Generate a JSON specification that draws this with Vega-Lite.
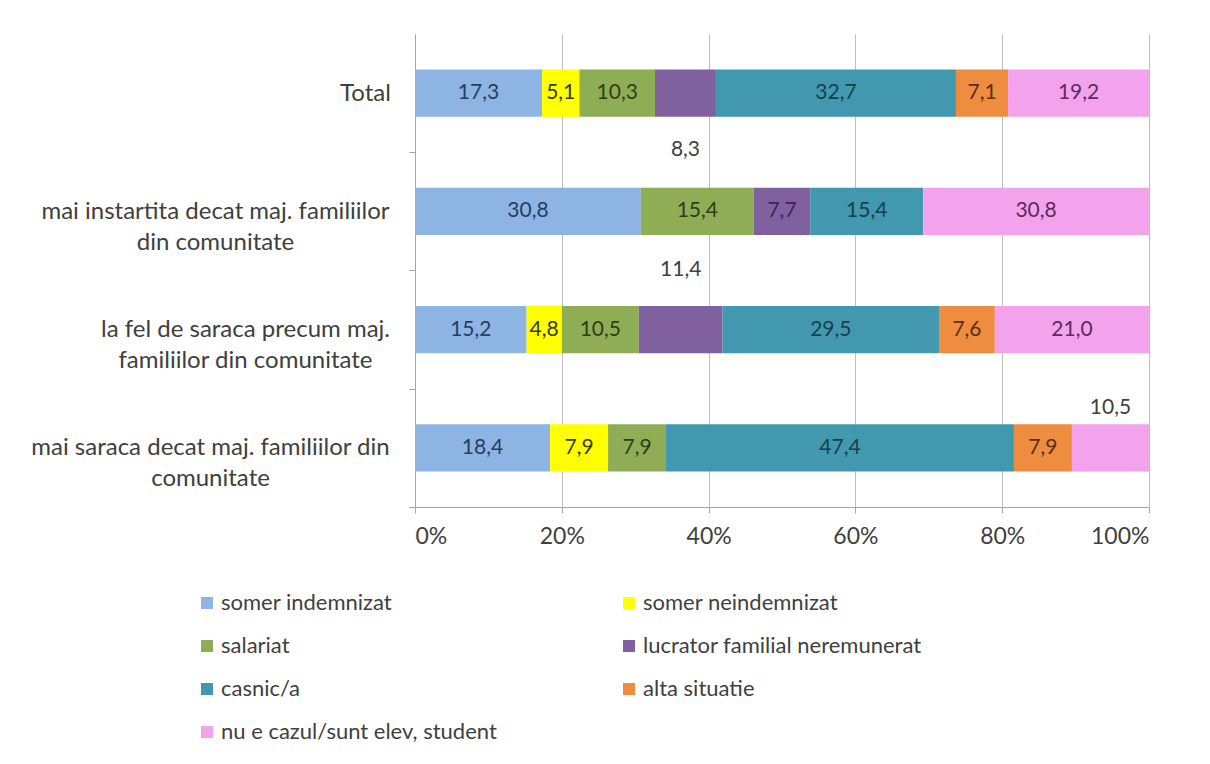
{
  "$schema": "https://vega.github.io/schema/vega-lite/v6.json",
  "width": 734,
  "height": 473,
  "autosize": {"type": "none"},
  "padding": {"left": 415, "top": 34, "right": 61, "bottom": 257},
  "background": "white",
  "config": {
    "locale": {"number": {"decimal": ",", "thousands": ".", "grouping": [3], "currency": ["", ""]}},
    "view": {"stroke": null},
    "font": "Lato",
    "text": {"font": "Lato", "fontSize": 21}
  },
  "data": {"values": [
    {"grup": "Total", "situatie": "somer indemnizat", "nr": 1, "pct": 17.3},
    {"grup": "Total", "situatie": "somer neindemnizat", "nr": 2, "pct": 5.1},
    {"grup": "Total", "situatie": "salariat", "nr": 3, "pct": 10.3},
    {"grup": "Total", "situatie": "lucrator familial neremunerat", "nr": 4, "pct": 8.3},
    {"grup": "Total", "situatie": "casnic/a", "nr": 5, "pct": 32.7},
    {"grup": "Total", "situatie": "alta situatie", "nr": 6, "pct": 7.1},
    {"grup": "Total", "situatie": "nu e cazul/sunt elev, student", "nr": 7, "pct": 19.2},
    {"grup": "mai instartita decat maj. familiilor|din comunitate", "situatie": "somer indemnizat", "nr": 1, "pct": 30.8},
    {"grup": "mai instartita decat maj. familiilor|din comunitate", "situatie": "salariat", "nr": 3, "pct": 15.4},
    {"grup": "mai instartita decat maj. familiilor|din comunitate", "situatie": "lucrator familial neremunerat", "nr": 4, "pct": 7.7},
    {"grup": "mai instartita decat maj. familiilor|din comunitate", "situatie": "casnic/a", "nr": 5, "pct": 15.4},
    {"grup": "mai instartita decat maj. familiilor|din comunitate", "situatie": "nu e cazul/sunt elev, student", "nr": 7, "pct": 30.8},
    {"grup": "la fel de saraca precum maj.|familiilor din comunitate", "situatie": "somer indemnizat", "nr": 1, "pct": 15.2},
    {"grup": "la fel de saraca precum maj.|familiilor din comunitate", "situatie": "somer neindemnizat", "nr": 2, "pct": 4.8},
    {"grup": "la fel de saraca precum maj.|familiilor din comunitate", "situatie": "salariat", "nr": 3, "pct": 10.5},
    {"grup": "la fel de saraca precum maj.|familiilor din comunitate", "situatie": "lucrator familial neremunerat", "nr": 4, "pct": 11.4},
    {"grup": "la fel de saraca precum maj.|familiilor din comunitate", "situatie": "casnic/a", "nr": 5, "pct": 29.5},
    {"grup": "la fel de saraca precum maj.|familiilor din comunitate", "situatie": "alta situatie", "nr": 6, "pct": 7.6},
    {"grup": "la fel de saraca precum maj.|familiilor din comunitate", "situatie": "nu e cazul/sunt elev, student", "nr": 7, "pct": 21.0},
    {"grup": "mai saraca decat maj. familiilor din|comunitate", "situatie": "somer indemnizat", "nr": 1, "pct": 18.4},
    {"grup": "mai saraca decat maj. familiilor din|comunitate", "situatie": "somer neindemnizat", "nr": 2, "pct": 7.9},
    {"grup": "mai saraca decat maj. familiilor din|comunitate", "situatie": "salariat", "nr": 3, "pct": 7.9},
    {"grup": "mai saraca decat maj. familiilor din|comunitate", "situatie": "casnic/a", "nr": 5, "pct": 47.4},
    {"grup": "mai saraca decat maj. familiilor din|comunitate", "situatie": "alta situatie", "nr": 6, "pct": 7.9},
    {"grup": "mai saraca decat maj. familiilor din|comunitate", "situatie": "nu e cazul/sunt elev, student", "nr": 7, "pct": 10.5}
  ]},
  "encoding": {
    "y": {
      "field": "grup", "type": "nominal",
      "sort": ["Total", "mai instartita decat maj. familiilor|din comunitate", "la fel de saraca precum maj.|familiilor din comunitate", "mai saraca decat maj. familiilor din|comunitate"],
      "scale": {"paddingInner": 0.6, "paddingOuter": 0.3},
      "axis": {
        "title": null,
        "labelExpr": "split(datum.label, '|')",
        "labelFont": "Lato", "labelFontSize": 24, "labelColor": "#404040",
        "labelLineHeight": 31, "labelLimit": 500,
        "labelAlign": "center",
        "labelPadding": {
          "condition": [
            {"test": "datum.value == 'Total'", "value": 44},
            {"test": "datum.value == 'mai instartita decat maj. familiilor|din comunitate'", "value": 194},
            {"test": "datum.value == 'la fel de saraca precum maj.|familiilor din comunitate'", "value": 164}
          ],
          "value": 199
        },
        "tickOffset": 59, "labelOffset": -59,
        "domainColor": "#A6A6A6", "tickColor": "#A6A6A6", "tickSize": 6,
        "grid": false
      }
    },
    "order": {"field": "nr", "type": "quantitative"}
  },
  "layer": [
    {
      "mark": {"type": "bar"},
      "encoding": {
        "x": {
          "field": "pct", "type": "quantitative", "stack": "normalize",
          "axis": {
            "title": null, "format": ".0%", "values": [0, 0.2, 0.4, 0.6, 0.8, 1],
            "labelFont": "Lato", "labelFontSize": 23, "labelColor": "#404040", "labelPadding": 12,
            "grid": true, "gridColor": "#BFBFBF", "domainColor": "#A6A6A6", "tickColor": "#A6A6A6", "tickSize": 6
          }
        },
        "color": {
          "field": "situatie", "type": "nominal",
          "scale": {
            "domain": ["somer indemnizat", "somer neindemnizat", "salariat", "lucrator familial neremunerat", "casnic/a", "alta situatie", "nu e cazul/sunt elev, student"],
            "range": ["#8EB4E3", "#FFFF00", "#8FAD55", "#7F61A0", "#4198AF", "#EE8C3F", "#F3A3EC"]
          },
          "legend": {
            "title": null, "orient": "none", "legendX": -219, "legendY": 558,
            "direction": "horizontal",
            "columns": 2, "columnPadding": 121, "rowPadding": 21,
            "symbolType": "square", "symbolSize": 144, "symbolStrokeWidth": 0, "labelOffset": 3,
            "labelFont": "Lato", "labelFontSize": 22, "labelColor": "#404040", "labelLimit": 400
          }
        }
      }
    },
    {
      "mark": {"type": "text"},
      "encoding": {
        "x": {"field": "pct", "type": "quantitative", "stack": "normalize", "bandPosition": 0.5},
        "text": {
          "condition": {"test": "datum.pct == 8.3 && datum.nr == 4 || datum.pct == 11.4 && datum.nr == 4 || datum.nr == 7 && datum.pct == 10.5", "value": ""},
          "field": "pct", "type": "quantitative", "format": ".1f"
        },
        "color": {
          "field": "situatie", "type": "nominal",
          "scale": {
            "domain": ["somer indemnizat", "somer neindemnizat", "salariat", "lucrator familial neremunerat", "casnic/a", "alta situatie", "nu e cazul/sunt elev, student"],
            "range": ["#243F60", "#3A3A10", "#2F3D16", "#3B2454", "#173F4B", "#5A2E0E", "#5C2A5C"]
          },
          "legend": null
        }
      }
    },
    {
      "mark": {"type": "text", "dy": 57, "color": "#404040"},
      "encoding": {
        "x": {"field": "pct", "type": "quantitative", "stack": "normalize", "bandPosition": 0.5},
        "text": {
          "condition": {"test": "!(datum.grup == 'Total' && datum.nr == 4)", "value": ""},
          "field": "pct", "type": "quantitative", "format": ".1f"
        }
      }
    },
    {
      "mark": {"type": "text", "dy": -60, "color": "#404040"},
      "encoding": {
        "x": {"field": "pct", "type": "quantitative", "stack": "normalize", "bandPosition": 0.5},
        "text": {
          "condition": {"test": "!(datum.pct == 11.4 && datum.nr == 4)", "value": ""},
          "field": "pct", "type": "quantitative", "format": ".1f"
        }
      }
    },
    {
      "mark": {"type": "text", "dy": -40, "color": "#404040"},
      "encoding": {
        "x": {"field": "pct", "type": "quantitative", "stack": "normalize", "bandPosition": 0.5},
        "text": {
          "condition": {"test": "!(datum.pct == 10.5 && datum.nr == 7)", "value": ""},
          "field": "pct", "type": "quantitative", "format": ".1f"
        }
      }
    }
  ],
  "resolve": {"scale": {"color": "independent"}}
}
